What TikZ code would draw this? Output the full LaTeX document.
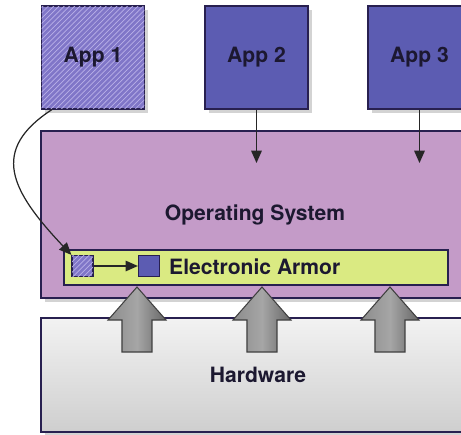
\documentclass[tikz,border=0pt]{standalone}
\usepackage{fontspec}
\setmainfont{TeX Gyre Heros}
\usetikzlibrary{patterns,shadows,arrows.meta}

\definecolor{appblue}{RGB}{92,92,178}
\definecolor{hatchbase}{RGB}{128,118,200}
\definecolor{hatchline}{RGB}{185,176,232}
\definecolor{ospurple}{RGB}{196,155,200}
\definecolor{armorgreen}{RGB}{218,234,130}
\definecolor{edgedark}{RGB}{40,32,80}
\definecolor{textdark}{RGB}{28,24,48}

\begin{document}
\begin{tikzpicture}[x=0.02cm, y=-0.02cm,
        box/.style={draw=edgedark, line width=0.7pt, inner sep=0pt,
            font=\large\bfseries, text=textdark,
            drop shadow={opacity=0.35, shadow xshift=2pt, shadow yshift=-2pt}},
        app/.style={box, fill=appblue, minimum width=2.06cm, minimum height=2.06cm},
        hatched/.style={fill=hatchbase, postaction={pattern=north east lines, pattern color=hatchline}},
        osbox/.style={box, fill=ospurple, minimum width=8.68cm, minimum height=3.34cm},
        armorbox/.style={draw=edgedark, line width=0.7pt, fill=armorgreen, inner sep=0pt,
            minimum width=7.68cm, minimum height=0.7cm},
        minibox/.style={draw=edgedark, line width=0.7pt, fill=appblue, inner sep=0pt, minimum size=0.42cm},
        hwbox/.style={box, top color=gray!10, bottom color=gray!38, minimum width=8.68cm, minimum height=2.28cm},
        label/.style={font=\large\bfseries, text=textdark},
        conn/.style={draw=black!85, line width=0.7pt, -{Triangle[length=7pt,width=6pt]}},
        bigarrow/.style={draw=black!75, line width=0.6pt, left color=gray!90, right color=gray!80!black, middle color=gray!70}
    ]
    \useasboundingbox (0,0) rectangle (461,434);
    \clip (0,0) rectangle (461,434);

    % applications
    \node[app, hatched] (app1) at (93,57.5) {App 1};
    \node[app] (app2) at (256.5,57.5) {App 2};
    \node[app] (app3) at (419.5,57.5) {App 3};

    % operating system with the armor layer
    \node[osbox] (os) at (258,214.5) {};
    \node[label] (oslabel) at (255,215) {Operating System};
    \node[armorbox] (armor) at (256,267.5) {};
    \node[minibox, hatched] (mini1) at (82.5,266) {};
    \node[minibox] (mini2) at (149,266) {};
    \node[label, anchor=west] (armorlabel) at (163,266.5) {Electronic Armor};

    % hardware
    \node[hwbox] (hw) at (258,375) {Hardware};

    % calls into the kernel
    \coordinate (in2) at (256.5,163);
    \coordinate (in3) at (419.5,163);
    \draw[conn] (app2) -- (in2);
    \draw[conn] (app3) -- (in3);
    \draw[conn] ([xshift=0.22cm]app1.south west) .. controls (-10,150) and (10,190) .. (mini1.north west);
    \draw[conn] (mini1) -- (mini2);

    % hardware below
    \foreach \x in {137,262,390} {
        \draw[bigarrow] (\x-15,352) -- (\x-15,320) -- (\x-29,320) -- (\x,287)
            -- (\x+29,320) -- (\x+15,320) -- (\x+15,352) -- cycle;
    }
\end{tikzpicture}
\end{document}
